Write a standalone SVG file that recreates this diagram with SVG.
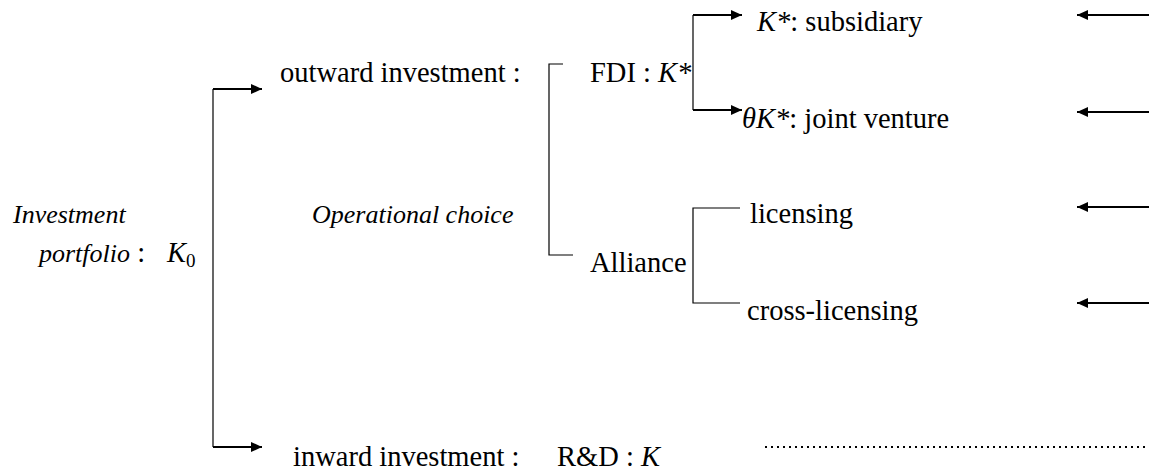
<svg xmlns="http://www.w3.org/2000/svg" width="1149" height="472" viewBox="0 0 1149 472">
<style>
text{font-family:"Liberation Serif","DejaVu Serif",serif;font-size:28.5px;fill:#000}
.i{font-style:italic}
.it{font-style:italic;font-size:26px}
.ln{fill:none;stroke:#000;stroke-width:1.2}
.ar{fill:none;stroke:#000;stroke-width:2}
.dot{fill:none;stroke:#000;stroke-width:2;stroke-dasharray:2 4}
</style>
<defs>
<marker id="ah" markerWidth="12" markerHeight="10" refX="11" refY="5" orient="auto" markerUnits="userSpaceOnUse">
<path d="M0,0 L11,5 L0,10 Z" fill="#000"/>
</marker>
</defs>
<rect width="1149" height="472" fill="#fff"/>
<g id="connectors">
<path class="ln" d="M213,89 V447"/>
<path class="ar" d="M213,89 H262" marker-end="url(#ah)"/>
<path class="ar" d="M213,447 H262" marker-end="url(#ah)"/>
<path class="ln" d="M563,64 H549 V255 H573"/>
<path class="ln" d="M693,15 V110"/>
<path class="ar" d="M693,15 H742" marker-end="url(#ah)"/>
<path class="ar" d="M693,110 H742" marker-end="url(#ah)"/>
<path class="ln" d="M740,208 H693 V303 H740"/>
<path class="ar" d="M1149,15 H1077" marker-end="url(#ah)"/>
<path class="ar" d="M1149,112 H1077" marker-end="url(#ah)"/>
<path class="ar" d="M1149,207 H1077" marker-end="url(#ah)"/>
<path class="ar" d="M1149,303 H1077" marker-end="url(#ah)"/>
<path class="dot" d="M765,447 H1149"/>
</g>
<g id="portfolio">
<text x="13" y="223" class="it">Investment</text>
<text x="39" y="262"><tspan class="it">portfolio</tspan> :</text>
<text x="167" y="262" class="i">K<tspan dy="5" font-size="19" font-style="normal">0</tspan></text>
</g>
<g id="outward"><text x="280" y="82">outward investment :</text></g>
<g id="choice"><text x="312" y="223" class="it">Operational choice</text></g>
<g id="fdi"><text x="590" y="82">FDI : <tspan class="i">K*</tspan></text></g>
<g id="subsidiary"><text x="757" y="31"><tspan class="i">K*</tspan>: subsidiary</text></g>
<g id="jv"><text x="742" y="128"><tspan class="i">θK*</tspan>: joint venture</text></g>
<g id="licensing"><text x="750" y="223">licensing</text></g>
<g id="alliance"><text x="590" y="272">Alliance</text></g>
<g id="cross"><text x="747" y="320">cross-licensing</text></g>
<g id="inward"><text x="293" y="466">inward investment :</text><text x="557" y="466">R&amp;D : <tspan class="i">K</tspan></text></g>
</svg>
